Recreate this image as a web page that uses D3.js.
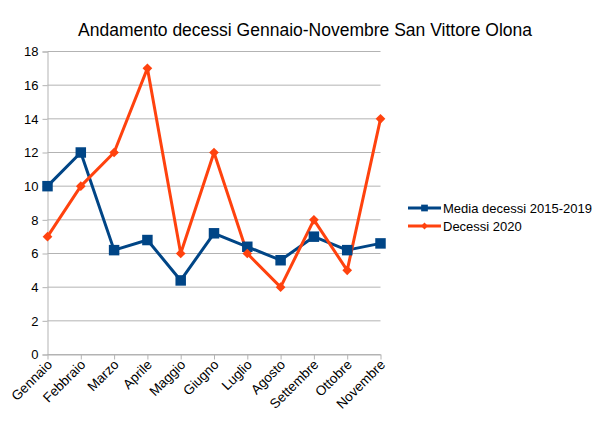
<!DOCTYPE html>
<html>
<head>
<meta charset="utf-8">
<script src="https://cdn.jsdelivr.net/npm/d3@7"></script>
<style>
  body { margin: 0; background: #fff; }
  text { font-family: "Liberation Sans", Arial, sans-serif; fill: #000; }
</style>
</head>
<body>
<div id="chart"></div>
<script>
const mesi = ["Gennaio", "Febbraio", "Marzo", "Aprile", "Maggio", "Giugno",
  "Luglio", "Agosto", "Settembre", "Ottobre", "Novembre"];
const media = [10, 12, 6.2, 6.8, 4.4, 7.2, 6.4, 5.6, 7, 6.2, 6.6];
const decessi2020 = [7, 10, 12, 17, 6, 12, 6, 4, 8, 5, 14];
const yTicks = [0, 2, 4, 6, 8, 10, 12, 14, 16, 18];

const W = 610, H = 431;
const svg = d3.select("#chart").append("svg")
  .attr("width", W).attr("height", H);

const x = d3.scalePoint().domain(mesi).range([47.5, 380.5]);
const y = d3.scaleLinear().domain([0, 18]).range([354.5, 51.5]);

// title
svg.append("text")
  .attr("x", 305).attr("y", 36)
  .attr("text-anchor", "middle")
  .style("font-size", "17.5px")
  .text("Andamento decessi Gennaio-Novembre San Vittore Olona");

// gridlines
svg.append("g").selectAll("line").data(yTicks).join("line")
  .attr("x1", 47.5).attr("x2", 380.5)
  .attr("y1", d => y(d)).attr("y2", d => y(d))
  .attr("stroke", "#b3b3b3").attr("stroke-width", 1);

// y axis
const yAxis = svg.append("g")
  .attr("transform", "translate(47.5,0)")
  .call(d3.axisLeft(y).tickValues(yTicks).tickSize(5).tickPadding(4));
yAxis.select(".domain").attr("stroke", "#b3b3b3");
yAxis.selectAll(".tick line").attr("stroke", "#b3b3b3");
yAxis.selectAll("text").style("font-size", "13px");

// x axis
const xAxis = svg.append("g")
  .attr("transform", "translate(0,354.5)")
  .call(d3.axisBottom(x).tickSize(5).tickSizeOuter(0));
xAxis.select(".domain").attr("stroke", "#b3b3b3");
xAxis.selectAll(".tick line").attr("stroke", "#b3b3b3");
xAxis.selectAll("text")
  .style("font-size", "13.5px")
  .attr("text-anchor", "end")
  .attr("dy", null).attr("y", 0)
  .attr("transform", "translate(5,11) rotate(-45)");

// lines
const line = d3.line().x((d, i) => x(mesi[i])).y(d => y(d));

svg.append("path").datum(media)
  .attr("d", line).attr("fill", "none")
  .attr("stroke", "#004586").attr("stroke-width", 3).attr("stroke-linejoin", "round");

svg.append("path").datum(decessi2020)
  .attr("d", line).attr("fill", "none")
  .attr("stroke", "#ff420e").attr("stroke-width", 3).attr("stroke-linejoin", "round");

// markers
const sq = d3.symbol().type(d3.symbolSquare).size(110);
const dia = d3.symbol().type(d3.symbolDiamond2).size(60);

svg.append("g").selectAll("path").data(media).join("path")
  .attr("d", sq)
  .attr("transform", (d, i) => `translate(${x(mesi[i])},${y(d)})`)
  .attr("fill", "#004586");

svg.append("g").selectAll("path").data(decessi2020).join("path")
  .attr("d", dia)
  .attr("transform", (d, i) => `translate(${x(mesi[i])},${y(d)})`)
  .attr("fill", "#ff420e");

// legend
const legend = [
  { name: "Media decessi 2015-2019", color: "#004586", sym: d3.symbol().type(d3.symbolSquare).size(45) },
  { name: "Decessi 2020", color: "#ff420e", sym: d3.symbol().type(d3.symbolDiamond2).size(30) }
];
const lg = svg.append("g").selectAll("g").data(legend).join("g")
  .attr("transform", (d, i) => `translate(408,${208 + i * 18})`);
lg.append("line").attr("x1", 0).attr("x2", 33).attr("y1", 0).attr("y2", 0)
  .attr("stroke", d => d.color).attr("stroke-width", 3);
lg.append("path").attr("d", d => d.sym()).attr("transform", "translate(16.5,0)")
  .attr("fill", d => d.color);
lg.append("text").attr("x", 35).attr("y", 0).attr("dy", "0.35em")
  .style("font-size", "13px").text(d => d.name);
</script>
</body>
</html>
